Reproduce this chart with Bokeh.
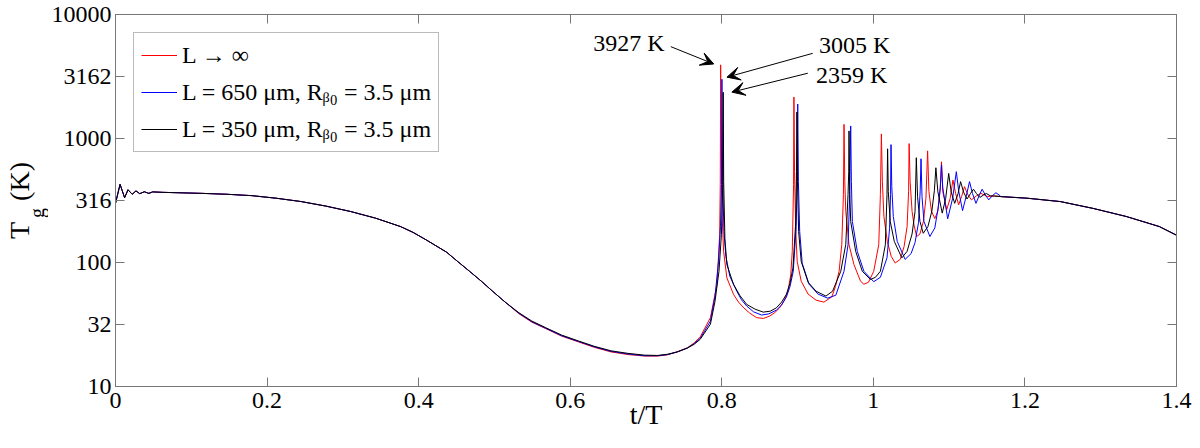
import math
from bokeh.plotting import figure
from bokeh.layouts import row
from bokeh.models import (Range1d, FixedTicker, LinearAxis, LogAxis, Label, Arrow,
                          VeeHead, Legend, LegendItem)
from bokeh.embed import file_html
from bokeh.resources import INLINE

# ---------------- data ----------------
# shared start of all three curves (t/T, T_g in K)
early_t = [0.0, 0.006, 0.012, 0.0165, 0.022, 0.027, 0.032, 0.038, 0.044, 0.049,
           0.062, 0.114, 0.147, 0.180, 0.212, 0.245, 0.2776, 0.310, 0.343, 0.376,
           0.3926, 0.4109, 0.437, 0.4514, 0.4671, 0.4828, 0.4975, 0.5142]
early_T = [300, 427, 333, 386, 355, 378, 359, 372, 361, 371,
           368, 361, 355, 346, 330, 310, 285, 258, 228, 195,
           175, 151, 121, 102, 85, 70.6, 58.7, 47.9]

# L -> infinity (red)
red_t = [0.5324, 0.5494, 0.5677, 0.5886, 0.6108, 0.6317, 0.6539, 0.6762, 0.6983, 0.7153,
         0.7284, 0.7414, 0.7545, 0.7636, 0.7715, 0.7850, 0.7937, 0.7972, 0.7980, 0.7985,
         0.7992, 0.8006, 0.8024, 0.8067, 0.8155, 0.8220, 0.8290, 0.8370, 0.8460, 0.8550,
         0.8633, 0.8700, 0.8764, 0.8820, 0.8874, 0.8910, 0.8930, 0.8947, 0.8952, 0.8960,
         0.8976, 0.8995, 0.9048, 0.9139, 0.9244, 0.9348, 0.9453, 0.9500, 0.9548, 0.9583,
         0.9605, 0.9613, 0.9623, 0.9636, 0.9679, 0.9744, 0.9831, 0.9875, 0.9936, 1.0005,
         1.0071, 1.0093, 1.0106, 1.0119, 1.0139, 1.0184, 1.0236, 1.0288, 1.0354, 1.0406,
         1.0445, 1.0465, 1.0472, 1.0485, 1.0511, 1.0537, 1.0572, 1.0615, 1.0661, 1.0694,
         1.0716, 1.0733, 1.0766, 1.0811, 1.0851, 1.0883, 1.0899, 1.0916, 1.0968, 1.1014,
         1.1050, 1.1086, 1.1125, 1.1164, 1.1203, 1.1249, 1.1295, 1.1360, 1.1421, 1.1504,
         1.1595]
red_T = [38.6, 33.0, 29.3, 25.5, 22.9, 20.7, 19.0, 18.1, 17.6, 17.6,
         18.0, 19.1, 20.5, 22.5, 25.1, 35.9, 66.8, 168, 424, 3927,
         781, 228, 123, 75.1, 55.3, 48, 43.1, 39, 35.9, 35.4,
         37.0, 39.5, 43.1, 49, 58.7, 80, 123, 424, 2158, 539,
         178, 102, 70.6, 55.6, 49.7, 47.9, 53, 64, 85, 139,
         353, 1300, 448, 258, 139, 96.2, 70.6, 66.8, 69.3, 85,
         139, 353, 1089, 448, 235, 148, 112, 99, 106, 135,
         195, 373, 910, 448, 258, 200, 162, 170, 215, 330,
         795, 373, 260, 226, 260, 400, 649, 373, 267, 330,
         463, 360, 291, 340, 409, 350, 320, 345, 361, 340,
         345]

# L = 650 um (blue)
blue_t = [0.5324, 0.5494, 0.5677, 0.5886, 0.6108, 0.6317, 0.6539, 0.6762, 0.6983, 0.7153,
          0.7284, 0.7414, 0.7545, 0.7636, 0.7715, 0.7850, 0.7911, 0.7957, 0.7983, 0.7996,
          0.8002, 0.8010, 0.8028, 0.8054, 0.8106, 0.8198, 0.8260, 0.8329, 0.8420, 0.8525,
          0.8620, 0.8721, 0.8790, 0.8852, 0.8900, 0.8943, 0.8982, 0.8995, 0.9002, 0.9011,
          0.9028, 0.9061, 0.9152, 0.9270, 0.9397, 0.9505, 0.9613, 0.9666, 0.9688, 0.9701,
          0.9710, 0.9723, 0.9788, 0.9875, 1.0005, 1.0093, 1.0180, 1.0214, 1.0227, 1.0233,
          1.0243, 1.0263, 1.0315, 1.0419, 1.0498, 1.0550, 1.0596, 1.0618, 1.0629, 1.0642,
          1.0668, 1.0746, 1.0811, 1.0857, 1.0883, 1.0899, 1.0916, 1.0981, 1.1046, 1.1095,
          1.1125, 1.1177, 1.1229, 1.1269, 1.1308, 1.1354, 1.1399, 1.1435, 1.1478, 1.1523,
          1.1569, 1.1617, 1.1674]
blue_T = [39.0, 33.3, 29.5, 25.7, 23.1, 20.9, 19.2, 18.3, 17.7, 17.7,
          18.1, 19.0, 20.4, 22.2, 24.4, 33.7, 53.6, 102, 195, 424,
          3005, 539, 178, 112, 77.5, 58.7, 50, 44.5, 40, 37.7,
          38.5, 41.3, 45.5, 52.6, 64, 85, 195, 539, 1898, 448,
          178, 98.6, 66.8, 55.6, 51.6, 54.5, 85, 139, 353, 1262,
          448, 214, 123, 85, 70.0, 76, 109, 189, 353, 893,
          409, 235, 148, 106, 118, 145, 210, 380, 686, 340,
          214, 162, 190, 280, 400, 614, 400, 225, 330, 540,
          380, 262, 350, 449, 360, 300, 350, 390, 350, 320,
          345, 365, 345]

# L = 350 um (black)
black_t = [0.5324, 0.5494, 0.5677, 0.5886, 0.6108, 0.6317, 0.6539, 0.6762, 0.6983, 0.7153,
           0.7284, 0.7414, 0.7545, 0.7636, 0.7715, 0.7850, 0.7911, 0.7963, 0.7995, 0.8013,
           0.8019, 0.8025, 0.8041, 0.8067, 0.8155, 0.8240, 0.8329, 0.8440, 0.8547, 0.8640,
           0.8721, 0.8790, 0.8852, 0.8900, 0.8939, 0.8976, 0.8986, 0.8991, 0.8999, 0.9014,
           0.9048, 0.9139, 0.9244, 0.9374, 0.9462, 0.9570, 0.9636, 0.9666, 0.9675, 0.9679,
           0.9688, 0.9701, 0.9767, 0.9854, 0.9962, 1.0028, 1.0093, 1.0158, 1.0180, 1.0188,
           1.0197, 1.0223, 1.0276, 1.0376, 1.0445, 1.0511, 1.0550, 1.0567, 1.0583, 1.0615,
           1.0658, 1.0720, 1.0772, 1.0805, 1.0825, 1.0851, 1.0909, 1.0955, 1.0994, 1.1027,
           1.1073, 1.1118, 1.1151, 1.1190, 1.1236, 1.1282, 1.1321, 1.1360, 1.1406, 1.1452,
           1.1491, 1.1543, 1.1595]
black_T = [39.3, 33.7, 29.8, 26.0, 23.3, 21.1, 19.4, 18.5, 17.9, 17.8,
           18.2, 19.0, 20.4, 21.9, 24.0, 31.8, 48.8, 85, 168, 424,
           2359, 448, 156, 96.2, 66.5, 54, 45.9, 42, 39.8, 40.5,
           43.1, 48, 55.3, 68, 90.3, 214, 539, 1634, 448, 178,
           102, 69.3, 58.7, 53.6, 58.7, 85, 140, 353, 539, 1151,
           373, 214, 123, 85, 72.9, 76, 85, 139, 353, 826,
           373, 214, 148, 109, 123, 170, 258, 700, 340, 214,
           172, 195, 260, 380, 581, 373, 250, 330, 523, 370,
           300, 360, 449, 370, 325, 360, 390, 360, 335, 350,
           360, 345, 343]

# shared end of all three curves
tail_t = [1.1683, 1.2030, 1.2467, 1.2900, 1.3337, 1.3773, 1.4000]
tail_T = [340, 330, 310, 273, 235, 195, 166]

x_ticks = [0.0, 0.2, 0.4, 0.6, 0.8, 1.0, 1.2, 1.4]
x_tick_labels = ["0", "0.2", "0.4", "0.6", "0.8", "1", "1.2", "1.4"]
y_ticks = [10 ** e for e in (1, 1.5, 2, 2.5, 3, 3.5, 4)]
y_tick_labels = ["10", "32", "100", "316", "1000", "3162", "10000"]

series_labels = ["L \u2192 \u221e",
                 "L = 650 \u03bcm, R\u1d66\u2080 = 3.5 \u03bcm",
                 "L = 350 \u03bcm, R\u1d66\u2080 = 3.5 \u03bcm"]
series_colors = ["#ff0000", "#0000ff", "#000000"]
peak_values = [3927, 3005, 2359]
peak_labels = [f"{v} K" for v in peak_values]

NBSP = "\u00a0"
y_title_main = "T" + NBSP * 3 + "(K)"   # T_g (K); the subscript is drawn separately
y_title_sub = "g" + NBSP * 5

# ---------------- figure ----------------
FONT = "Liberation Serif"
GRAY = "#777777"

p = figure(width=1144, height=432, title=None,
           x_range=Range1d(0, 1.4), y_range=Range1d(10, 10000),
           y_axis_type="log", output_backend="svg", toolbar_location=None,
           min_border_left=64, min_border_right=16, min_border_top=14,
           min_border_bottom=46)
p.xgrid.visible = False
p.ygrid.visible = False
p.outline_line_color = GRAY
p.background_fill_color = "white"
p.border_fill_color = "white"


def style(ax, ticks, labels, show):
    ax.ticker = FixedTicker(ticks=ticks)
    ax.major_label_overrides = dict(zip(ticks, labels))
    ax.major_tick_in = 9
    ax.major_tick_out = 0
    ax.minor_tick_line_color = None
    ax.major_tick_line_color = GRAY
    ax.axis_line_color = GRAY
    ax.major_label_text_font = FONT
    if show:
        ax.major_label_text_color = "black"
        ax.major_label_text_font_size = "24px"
    else:
        ax.major_label_text_color = None
        ax.major_label_text_font_size = "1px"
        ax.major_label_standoff = 0


xa = p.below[0]
ya = p.left[0]
style(xa, x_ticks, x_tick_labels, True)
style(ya, y_ticks, y_tick_labels, True)
xa.major_label_standoff = 6
ya.major_label_standoff = 4
xa.axis_label = "t/T"
xa.axis_label_text_font = FONT
xa.axis_label_text_font_size = "28px"
xa.axis_label_text_font_style = "normal"
xa.axis_label_text_color = "black"
xa.axis_label_standoff = -12
ya.axis_label = None

top_ax = LinearAxis()
style(top_ax, x_ticks, x_tick_labels, False)
p.add_layout(top_ax, "above")
right_ax = LogAxis()
style(right_ax, y_ticks, y_tick_labels, False)
p.add_layout(right_ax, "right")


def full(st, sT):
    return early_t + st + tail_t, early_T + sT + tail_T


rx, ry = full(red_t, red_T)
bx, by = full(blue_t, blue_T)
kx, ky = full(black_t, black_T)
r_red = p.line(rx, ry, line_color=series_colors[0], line_width=1)
r_blue = p.line(bx, by, line_color=series_colors[1], line_width=1)
r_black = p.line(kx, ky, line_color=series_colors[2], line_width=1)

legend = Legend(items=[LegendItem(label=series_labels[0], renderers=[r_red]),
                       LegendItem(label=series_labels[1], renderers=[r_blue]),
                       LegendItem(label=series_labels[2], renderers=[r_black])],
                location=(18, 234))
legend.margin = 0
legend.label_text_font = FONT
legend.label_text_font_size = "24px"
legend.label_text_color = "black"
legend.glyph_width = 36
legend.glyph_height = 30
legend.label_height = 30
legend.label_standoff = 5
legend.spacing = 7
legend.padding = 7
legend.border_line_color = GRAY
legend.border_line_width = 1
legend.background_fill_color = "white"
legend.background_fill_alpha = 1.0
p.add_layout(legend)

# arrows to the first peaks
arrow_pos = [(0.7327, 5504, 0.7894, 3990),
             (0.9200, 4864, 0.8068, 3122),
             (0.9135, 3361, 0.8133, 2366)]
for xs, ys, xe, ye in arrow_pos:
    p.add_layout(Arrow(end=VeeHead(size=13, fill_color="black", line_color="black",
                                   line_width=1),
                       x_start=xs, y_start=ys, x_end=xe, y_end=ye,
                       line_color="black", line_width=1))

text_pos = [(0.6304, 5851), (0.9283, 5691), (0.9244, 3269)]
for (tx, ty), txt in zip(text_pos, peak_labels):
    p.add_layout(Label(x=tx, y=ty, text=txt, text_font=FONT, text_font_size="24px",
                       text_align="left", text_baseline="middle", text_color="black"))

# ---- strip on the left holding the y-axis title T_g (K) as axis labels ----
lf = figure(width=48, height=432, title=None, x_range=Range1d(0, 1),
            y_range=Range1d(0, 1), x_axis_type=None, y_axis_type=None,
            output_backend="svg", toolbar_location=None,
            min_border_left=0, min_border_right=0, min_border_top=14,
            min_border_bottom=46)
lf.outline_line_color = None
lf.background_fill_color = "white"
lf.border_fill_color = "white"


def title_axis(text, size, standoff):
    ax = LinearAxis(ticker=FixedTicker(ticks=[]))
    ax.axis_line_color = None
    ax.major_tick_line_color = None
    ax.minor_tick_line_color = None
    ax.major_tick_in = 0
    ax.major_tick_out = 0
    ax.major_label_text_color = None
    ax.major_label_text_font_size = "1px"
    ax.major_label_standoff = 0
    ax.axis_label = text
    ax.axis_label_text_font = FONT
    ax.axis_label_text_font_size = size
    ax.axis_label_text_font_style = "normal"
    ax.axis_label_text_color = "black"
    ax.axis_label_standoff = standoff
    return ax


lf.add_layout(title_axis(y_title_sub, "20px", 0), "left")
lf.add_layout(title_axis(y_title_main, "28px", -12), "left")

layout = row(lf, p, spacing=0)
open("out.html", "w").write(file_html(layout, INLINE))
